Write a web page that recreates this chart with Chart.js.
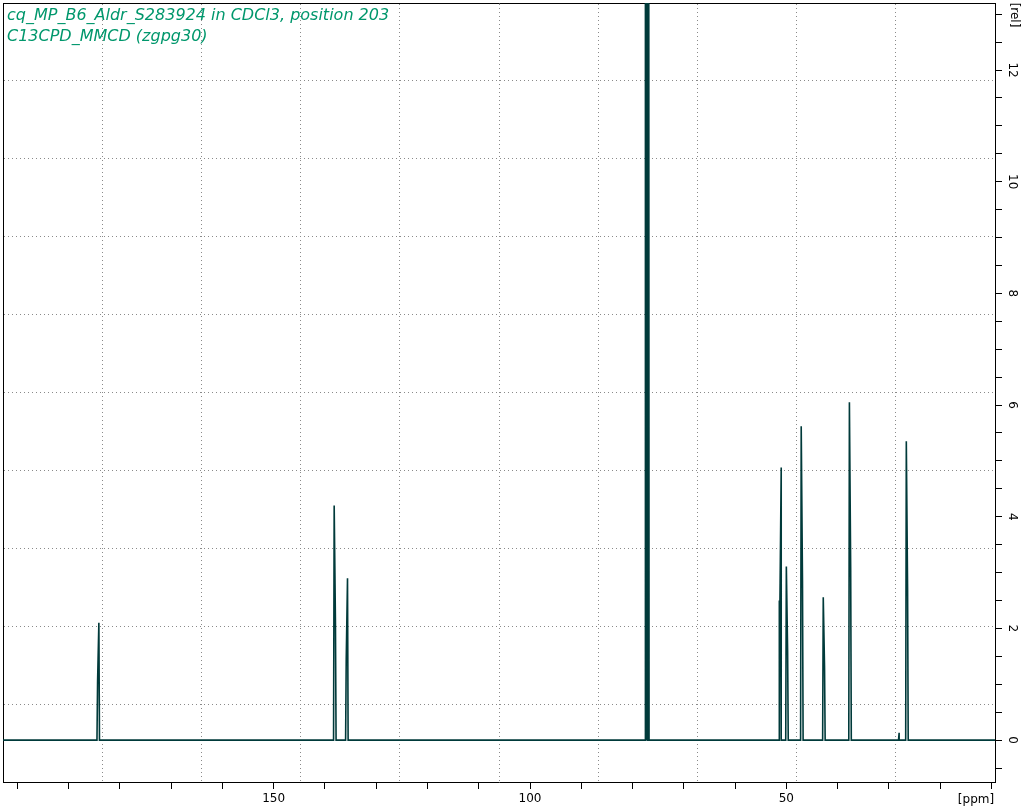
<!DOCTYPE html>
<html>
<head>
<meta charset="utf-8">
<script src="https://cdn.jsdelivr.net/npm/chart.js@4/dist/chart.umd.min.js"></script>
<style>
  html, body { margin: 0; padding: 0; background: #fff; }
  #spec { display: block; }
</style>
</head>
<body>
<canvas id="spec" width="1027" height="811"></canvas>
<script>
// 13C spectrum, peaks (ppm / rel. intensity)
const peakPpm      = [184.1, 138.2, 135.6, 77.43, 77.16, 76.90, 51.0, 50.0, 47.1, 42.8, 37.7, 28.0, 26.6];
const peakHeight   = [2.10,  4.20,  2.90,  30,    30,    30,    4.88, 3.11, 5.62, 2.56, 6.05, 0.13, 5.35];
// the thicker lower part of each line (neighbouring data point)
const shoulderPpm  = [184.35, 137.95, 135.85, 77.43, 77.16, 76.90, 51.25, 49.75, 46.85, 42.55, 37.45, 28.0, 26.35];
const shoulderHeight = [1.05, 2.08, 1.45, 30,   30,    30,    2.50, 1.57, 2.82, 1.30, 3.04, 0.13, 2.68];

const ppmMin = 9.3, ppmMax = 202.8;
const relMin = -0.75, relMax = 13.2;
const xLabels = [150, 100, 50];
const yLabels = [0, 2, 4, 6, 8, 10, 12];

const titleLines = ['cq_MP_B6_Aldr_S283924 in CDCl3, position 203', 'C13CPD_MMCD (zgpg30)'];

// build the line: flat baseline with a narrow stick for every peak
const foot = 0.12;
const spectrum = [{x: ppmMin, y: 0}];
const order = peakPpm.map((p, i) => i).sort((a, b) => peakPpm[a] - peakPpm[b]);
order.forEach(i => {
  const pts = [
    {x: peakPpm[i], y: peakHeight[i]},
    {x: shoulderPpm[i], y: shoulderHeight[i]}
  ].sort((a, b) => a.x - b.x);
  spectrum.push({x: pts[0].x - foot, y: 0});
  pts.forEach(p => spectrum.push(p));
  spectrum.push({x: pts[pts.length - 1].x + foot, y: 0});
});
spectrum.push({x: ppmMax, y: 0});

const ink = '#003a3a';
const tickFont = {family: 'DejaVu Sans', size: 12};

const textPlugin = {
  id: 'texts',
  afterDraw(chart) {
    const c = chart.ctx;
    c.save();
    c.fillStyle = '#00976c';
    c.font = 'italic 16px "DejaVu Sans"';
    c.textBaseline = 'middle';
    c.textAlign = 'left';
    c.fillText(titleLines[0], 7, 16);
    c.fillText(titleLines[1], 7, 37);

    c.fillStyle = '#000';
    c.font = '12px "DejaVu Sans"';
    c.textAlign = 'center';
    c.fillText('[ppm]', 976, 800);
    c.translate(1014, 15);
    c.rotate(Math.PI / 2);
    c.fillText('[rel]', 0, 0);
    c.restore();
  }
};

const dotted = {
  color: (ctx) => (ctx.tick && (ctx.tick.value === 0 || ctx.tick.value === 10)) ? 'rgba(0,0,0,0)' : '#8a8a8a',
  lineWidth: 1,
  drawTicks: false
};

const noPad = (s) => { s.paddingTop = 0; s.paddingBottom = 0; s.paddingLeft = 0; s.paddingRight = 0; };

new Chart(document.getElementById('spec'), {
  type: 'line',
  data: {
    datasets: [{
      data: spectrum,
      borderColor: ink,
      borderWidth: 1.6,
      pointRadius: 0,
      tension: 0,
      clip: 0,
      xAxisID: 'x',
      yAxisID: 'y'
    }]
  },
  options: {
    responsive: false,
    animation: false,
    devicePixelRatio: 1,
    layout: {padding: {left: 3, top: 3, right: 0, bottom: 0}},
    plugins: {legend: {display: false}, tooltip: {enabled: false}, title: {display: false}},
    scales: {
      x: {
        type: 'linear',
        position: 'bottom',
        reverse: true,
        min: ppmMin,
        max: ppmMax,
        afterFit: (s) => { s.height = 29; noPad(s); },
        border: {display: true, color: '#000', width: 1},
        grid: {drawOnChartArea: false, drawTicks: true, tickLength: 7, color: '#000'},
        ticks: {
          stepSize: 10,
          includeBounds: false,
          autoSkip: false,
          maxRotation: 0,
          padding: 3,
          color: '#000',
          font: tickFont,
          callback: (v) => xLabels.includes(v) ? String(v) : ''
        }
      },
      y: {
        type: 'linear',
        position: 'right',
        min: relMin,
        max: relMax,
        afterFit: (s) => { s.width = 32; noPad(s); },
        border: {display: true, color: '#000', width: 1},
        grid: {drawOnChartArea: false, drawTicks: true, tickLength: 7, color: '#000'},
        ticks: {
          stepSize: 0.5,
          includeBounds: false,
          autoSkip: false,
          minRotation: -90,
          maxRotation: -90,
          crossAlign: 'center',
          padding: 2,
          color: '#000',
          font: tickFont,
          callback: (v) => yLabels.includes(v) ? String(v) : ''
        }
      },
      gx: {
        type: 'linear',
        position: 'top',
        min: 0,
        max: 10,
        afterFit: (s) => { s.height = 0; noPad(s); },
        border: {display: true, color: '#000', width: 1, dash: [1, 3]},
        grid: dotted,
        ticks: {display: false, stepSize: 1}
      },
      gy: {
        type: 'linear',
        position: 'left',
        min: 0,
        max: 10,
        afterFit: (s) => { s.width = 0; noPad(s); },
        border: {display: true, color: '#000', width: 1, dash: [1, 3]},
        grid: dotted,
        ticks: {display: false, stepSize: 1}
      }
    }
  },
  plugins: [textPlugin]
});
</script>
</body>
</html>
